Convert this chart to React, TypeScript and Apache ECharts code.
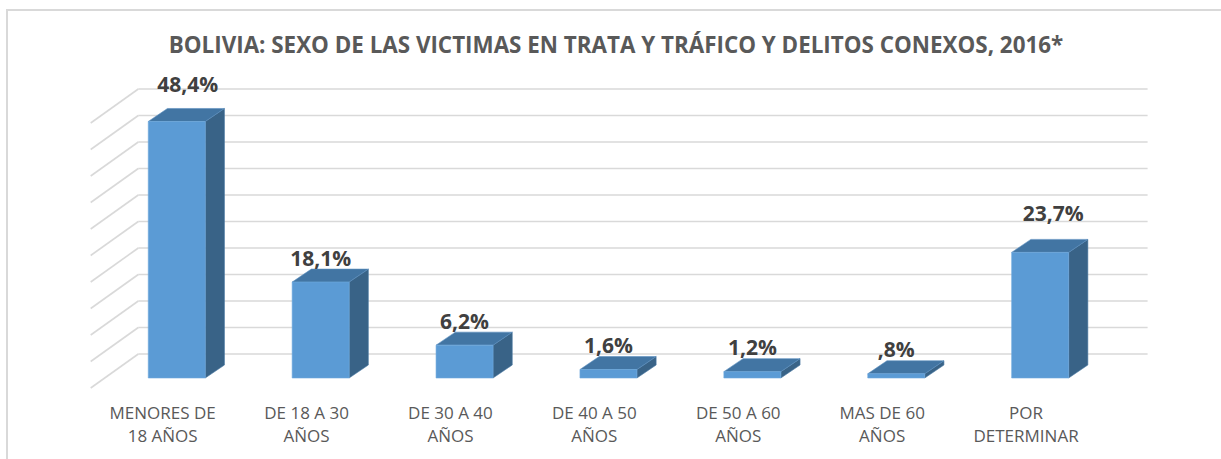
import React, { useEffect, useRef } from "react";
import * as echarts from "echarts";

const TITLE = "BOLIVIA: SEXO DE LAS VICTIMAS EN TRATA Y TRÁFICO Y DELITOS CONEXOS, 2016*";
const categories = [
  "MENORES DE\n18 AÑOS",
  "DE 18 A 30\nAÑOS",
  "DE 30 A 40\nAÑOS",
  "DE 40 A 50\nAÑOS",
  "DE 50 A 60\nAÑOS",
  "MAS DE 60\nAÑOS",
  "POR\nDETERMINAR",
];
const values = [48.4, 18.1, 6.2, 1.6, 1.2, 0.8, 23.7];
const yTicks = [0, 5, 10, 15, 20, 25, 30, 35, 40, 45, 50];

// perspective offsets (pixels), relative to the front edge of the floor
const BACK = [47.6, -34];
const BAR_FRONT = [14.1, -10];
const BAR_DEPTH = [19.2, -13];
const BAR_W = 57;
// manual label nudges seen in the reference (first and last bar)
const LABEL_NUDGE: Record<number, [number, number]> = { 0: [11, -13], 6: [13, -15] };

function fmt(v: number) {
  return v.toFixed(1).replace(".", ",").replace(/^0/, "") + "%";
}

export default function App() {
  const ref = useRef<HTMLDivElement>(null);
  useEffect(() => {
    if (!ref.current) return;
    const chart = echarts.init(ref.current, undefined, { renderer: "svg" });
    const gridColor = "#d9d9d9";
    chart.setOption({
      animation: false,
      backgroundColor: "#ffffff",
      graphic: [
        {
          type: "rect",
          shape: { x: 7, y: 10, width: 1400, height: 600 },
          style: { fill: "none", stroke: "#d9d9d9", lineWidth: 2 },
          silent: true,
        },
        {
          type: "text",
          x: 616,
          y: 44,
          style: {
            text: TITLE,
            fontFamily: "Open Sans",
            fontWeight: "bold",
            fontSize: 22.4,
            fill: "#595959",
            align: "center",
            verticalAlign: "middle",
          },
        },
      ],
      grid: { left: 90.7, top: 123, width: 1007.3, height: 265 },
      xAxis: {
        type: "category",
        data: categories,
        axisLine: { show: false },
        axisTick: { show: false },
        splitLine: { show: false },
        axisLabel: {
          color: "#595959",
          fontFamily: "Open Sans",
          fontSize: 17,
          lineHeight: 23,
          margin: 13,
          interval: 0,
        },
      },
      yAxis: {
        type: "value",
        min: 0,
        max: 50,
        interval: 5,
        show: false,
        splitLine: { show: false },
      },
      series: [
        {
          type: "custom",
          z: 1,
          silent: true,
          data: yTicks.map((t) => [0, t]),
          renderItem: (params: any, api: any) => {
            const cs = params.coordSys;
            const p = api.coord([0, api.value(1)]);
            const y = p[1];
            const left = cs.x;
            const right = cs.x + cs.width;
            return {
              type: "group",
              children: [
                {
                  type: "line",
                  shape: { x1: left + BACK[0], y1: y + BACK[1], x2: right + BACK[0] + 2, y2: y + BACK[1] },
                  style: { stroke: gridColor, lineWidth: 1.6 },
                },
                {
                  type: "line",
                  shape: { x1: left + BACK[0], y1: y + BACK[1], x2: left, y2: y },
                  style: { stroke: gridColor, lineWidth: 1.6 },
                },
              ],
            };
          },
        },
        {
          type: "custom",
          z: 2,
          data: values.map((v, i) => [i, v]),
          renderItem: (params: any, api: any) => {
            const i = api.value(0);
            const v = api.value(1);
            const top = api.coord([i, v]);
            const base = api.coord([i, 0]);
            const cx = top[0] + BAR_FRONT[0];
            const x0 = cx - BAR_W / 2;
            const x1 = cx + BAR_W / 2;
            const yt = top[1] + BAR_FRONT[1];
            const yb = base[1] + BAR_FRONT[1];
            const dx = BAR_DEPTH[0];
            const dy = BAR_DEPTH[1];
            const nudge = LABEL_NUDGE[params.dataIndex] || [0, 0];
            return {
              type: "group",
              children: [
                {
                  type: "polygon",
                  shape: { points: [[x1, yt], [x1 + dx, yt + dy], [x1 + dx, yb + dy], [x1, yb]] },
                  style: { fill: "#396387", stroke: "#4a78a3", lineWidth: 0.6 },
                },
                {
                  type: "polygon",
                  shape: { points: [[x0, yt], [x0 + dx, yt + dy], [x1 + dx, yt + dy], [x1, yt]] },
                  style: { fill: "#4275a3", stroke: "#5a8ec0", lineWidth: 0.6 },
                },
                {
                  type: "rect",
                  shape: { x: x0, y: yt, width: BAR_W, height: yb - yt },
                  style: { fill: "#5b9bd5", stroke: "#6fa9dd", lineWidth: 0.6 },
                },
                {
                  type: "text",
                  x: cx + nudge[0],
                  y: yt + dy - 1 + nudge[1],
                  style: {
                    text: fmt(v),
                    fontFamily: "Open Sans",
                    fontWeight: "bold",
                    fontSize: 21,
                    fill: "#404040",
                    align: "center",
                    verticalAlign: "bottom",
                  },
                },
              ],
            };
          },
        },
      ],
    });
    return () => chart.dispose();
  }, []);
  return (
    <div
      ref={ref}
      style={{ position: "fixed", left: 0, top: 0, width: 1221, height: 459 }}
    />
  );
}
